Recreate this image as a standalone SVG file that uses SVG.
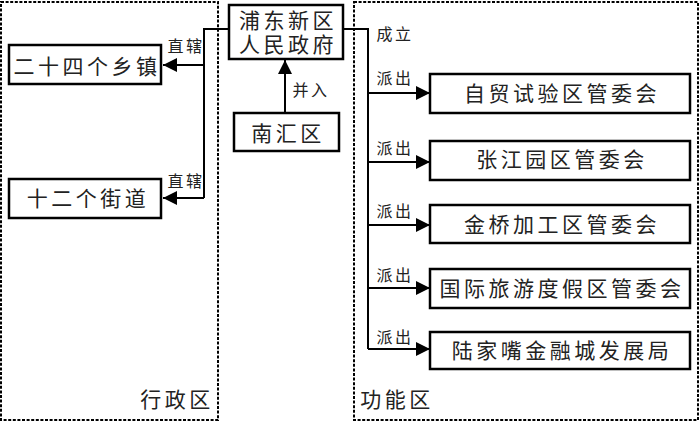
<svg xmlns="http://www.w3.org/2000/svg" width="700" height="422" viewBox="0 0 700 422">
<defs>
<style>
.bg{fill:#fff}
.zone{fill:none;stroke:#000;stroke-width:2;stroke-dasharray:3 1.6}
.box{fill:#fff;stroke:#000;stroke-width:2.5}
.ln{fill:none;stroke:#000;stroke-width:2}
.t{font-family:"Noto Sans CJK SC","Noto Sans CJK JP",sans-serif;font-size:21px;fill:#222;text-anchor:middle;letter-spacing:3.5px}
.s{font-family:"Noto Sans CJK SC","Noto Sans CJK JP",sans-serif;font-size:16px;fill:#222;text-anchor:middle;letter-spacing:2.5px}
</style>
<marker id="ah" markerUnits="userSpaceOnUse" markerWidth="14" markerHeight="14" viewBox="0 0 14 14" refX="14" refY="7" orient="auto">
<path d="M0,0 L14,7 L0,14 Z" fill="#000"/>
</marker>
</defs>
<rect class="bg" x="0" y="0" width="700" height="422"/>
<g id="zone-admin">
<rect class="zone" x="1" y="2" width="217" height="418"/>
<text class="t" x="177" y="407">行政区</text>
</g>
<g id="zone-func">
<rect class="zone" x="354" y="2" width="344" height="418"/>
<text class="t" x="397" y="407">功能区</text>
</g>
<g id="connectors">
<path class="ln" d="M229,29 H204 V198"/>
<path class="ln" d="M204,65 H163" marker-end="url(#ah)"/>
<path class="ln" d="M204,198 H163" marker-end="url(#ah)"/>
<path class="ln" d="M285,113 V60" marker-end="url(#ah)"/>
<path class="ln" d="M343,29 H368 V349"/>
<path class="ln" d="M368,93 H430" marker-end="url(#ah)"/>
<path class="ln" d="M368,162 H430" marker-end="url(#ah)"/>
<path class="ln" d="M368,225 H430" marker-end="url(#ah)"/>
<path class="ln" d="M368,288 H430" marker-end="url(#ah)"/>
<path class="ln" d="M368,349 H430" marker-end="url(#ah)"/>
<text class="s" x="186" y="52">直辖</text>
<text class="s" x="186" y="187">直辖</text>
<text class="s" x="311" y="96">并入</text>
<text class="s" x="395" y="40">成立</text>
<text class="s" x="395" y="84">派出</text>
<text class="s" x="395" y="154">派出</text>
<text class="s" x="395" y="217">派出</text>
<text class="s" x="395" y="281">派出</text>
<text class="s" x="395" y="343">派出</text>
</g>
<g id="node-pudong">
<rect class="box" x="229" y="5" width="114" height="54"/>
<text class="t" x="288" y="28">浦东新区</text>
<text class="t" x="288" y="52">人民政府</text>
</g>
<g id="node-nanhui">
<rect class="box" x="234" y="113" width="105" height="38"/>
<text class="t" x="288" y="141">南汇区</text>
</g>
<g id="node-towns">
<rect class="box" x="9" y="45" width="152" height="39"/>
<text class="t" x="87" y="74">二十四个乡镇</text>
</g>
<g id="node-streets">
<rect class="box" x="9" y="179" width="152" height="39"/>
<text class="t" x="88" y="206">十二个街道</text>
</g>
<g id="node-ftz">
<rect class="box" x="430" y="74" width="260" height="39"/>
<text class="t" x="562" y="101">自贸试验区管委会</text>
</g>
<g id="node-zhangjiang">
<rect class="box" x="430" y="141" width="260" height="39"/>
<text class="t" x="562" y="167">张江园区管委会</text>
</g>
<g id="node-jinqiao">
<rect class="box" x="430" y="205" width="260" height="38"/>
<text class="t" x="562" y="232">金桥加工区管委会</text>
</g>
<g id="node-resort">
<rect class="box" x="430" y="269" width="260" height="39"/>
<text class="t" x="562" y="296">国际旅游度假区管委会</text>
</g>
<g id="node-lujiazui">
<rect class="box" x="430" y="332" width="260" height="37"/>
<text class="t" x="562" y="358">陆家嘴金融城发展局</text>
</g>
</svg>
